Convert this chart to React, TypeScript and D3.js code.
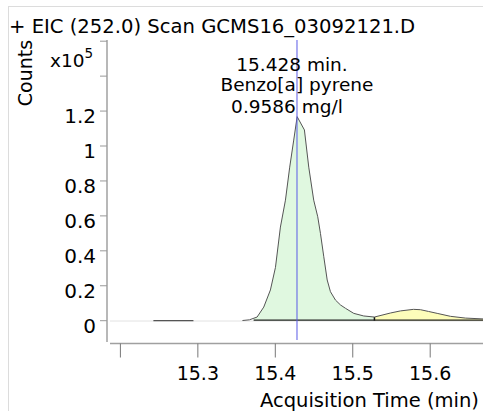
import React from 'react';
import * as d3 from 'd3';

// ---- data ----
const titleText = '+ EIC (252.0) Scan GCMS16_03092121.D';
const yTicks = [0, 0.2, 0.4, 0.6, 0.8, 1, 1.2, 1.4, 1.6];
const yTickLabels = ['0', '0.2', '0.4', '0.6', '0.8', '1', '1.2', '', ''];
const xTicks = [15.2, 15.3, 15.4, 15.5, 15.6];
const xTickLabels = ['', '15.3', '15.4', '15.5', '15.6'];

const noiseTimes = [15.2426, 15.2943];
const noiseCounts = [0, 0];

const traceTimes = [
  15.3576, 15.3666, 15.3765, 15.3851, 15.3937, 15.4002, 15.4066, 15.4131, 15.4186, 15.4238,
  15.4282, 15.4376, 15.4432, 15.4496, 15.4548, 15.4583, 15.4626, 15.467, 15.4712, 15.4777,
  15.4842, 15.4906, 15.5013, 15.5142, 15.528, 15.5487, 15.5616, 15.5784, 15.5874, 15.5978,
  15.609, 15.6262, 15.6456, 15.6688, 15.7,
];
const traceCounts = [
  0.001, 0.005, 0.021, 0.078, 0.176, 0.305, 0.536, 0.69, 0.879, 1.034,
  1.168, 1.092, 0.879, 0.69, 0.595, 0.5, 0.366, 0.233, 0.166, 0.118,
  0.09, 0.071, 0.042, 0.027, 0.021, 0.044, 0.056, 0.065, 0.063, 0.053,
  0.042, 0.025, 0.015, 0.01, 0.008,
];

const peakStart = [15.372, 15.528];
const peakEnd = [15.528, 15.7];
const peakFill = ['#e0f8e0', '#fdfdba'];

const retentionTime = 15.428;
const annotationLines = ['15.428 min.', 'Benzo[a] pyrene', '0.9586 mg/l'];

// ---- layout ----
const W = 483;
const H = 411;
const FONT = "'DejaVu Sans', Verdana, sans-serif";
const annotDx = [-5, 0, -10];
const annotY = [71, 91, 113];

const x = d3.scaleLinear().domain([15.2, 15.6]).range([120.4, 430.2]);
const y = d3.scaleLinear().domain([0, 1.6]).range([320.7, 41.2]);

function interp(t: number): number {
  const i = d3.bisectLeft(traceTimes, t);
  if (i <= 0) return traceCounts[0];
  if (i >= traceTimes.length) return traceCounts[traceCounts.length - 1];
  const t0 = traceTimes[i - 1], t1 = traceTimes[i];
  const f = (t - t0) / (t1 - t0);
  return traceCounts[i - 1] + f * (traceCounts[i] - traceCounts[i - 1]);
}

export default function App() {
  const trace = traceTimes.map((t, i) => [t, traceCounts[i]] as [number, number]);
  const noise = noiseTimes.map((t, i) => [t, noiseCounts[i]] as [number, number]);
  const line = d3
    .line<[number, number]>()
    .x((d) => x(d[0]))
    .y((d) => y(d[1]));
  const area = d3
    .area<[number, number]>()
    .x((d) => x(d[0]))
    .y0(y(0))
    .y1((d) => y(d[1]));

  const peaks = peakStart.map((s, k) => {
    const e = peakEnd[k];
    const pts: [number, number][] = [[s, interp(s)]];
    trace.forEach((p) => {
      if (p[0] > s && p[0] < e) pts.push(p);
    });
    pts.push([e, interp(e)]);
    return pts;
  });

  const xAxisY = 343.5;
  const yAxisX = 107;

  return (
    <svg
      width={W}
      height={H}
      style={{ position: 'absolute', left: 0, top: 0, background: '#fff' }}
      fontFamily={FONT}
    >
      {/* frame */}
      <rect x={8.5} y={6.5} width={W + 20} height={H + 20} fill="none" stroke="#dcdcdc" strokeWidth={1} />

      {/* title */}
      <text x={9} y={33} fontSize={19.6} fill="#000">
        {titleText}
      </text>

      {/* y label */}
      <text transform="translate(32,73) rotate(-90)" textAnchor="middle" fontSize={19} fill="#000">
        Counts
      </text>
      <text x={50} y={67} fontSize={18.5} fill="#000">
        x10
        <tspan dy={-9} fontSize={13.5}>
          5
        </tspan>
      </text>

      {/* zero line */}
      <line x1={110} x2={W} y1={y(0) + 0.3} y2={y(0) + 0.3} stroke="#e2e2e2" strokeWidth={1} />

      {/* peak fills */}
      {peaks.map((pts, k) => (
        <path key={'f' + k} d={area(pts) || ''} fill={peakFill[k]} stroke="none" />
      ))}
      {/* integration baselines */}
      {peaks.map((pts, k) => (
        <line
          key={'b' + k}
          x1={x(pts[0][0])}
          x2={x(pts[pts.length - 1][0])}
          y1={y(0) - 0.5}
          y2={y(0) - 0.5}
          stroke="#222"
          strokeWidth={1.2}
        />
      ))}
      {/* boundary marker */}
      <line
        x1={x(peakStart[1])}
        x2={x(peakStart[1])}
        y1={y(0)}
        y2={y(interp(peakStart[1]))}
        stroke="#111"
        strokeWidth={1.5}
      />

      {/* trace */}
      <path d={line(noise) || ''} fill="none" stroke="#555" strokeWidth={1.3} />
      <path d={line(trace) || ''} fill="none" stroke="#555" strokeWidth={1} />

      {/* retention time line */}
      <line x1={x(retentionTime)} x2={x(retentionTime)} y1={40} y2={340} stroke="#5a5ae6" strokeWidth={1} />

      {/* annotation */}
      {annotationLines.map((s, i) => (
        <text
          key={'a' + i}
          x={x(retentionTime) + annotDx[i]}
          y={annotY[i]}
          textAnchor="middle"
          fontSize={18.5}
          fill="#000"
        >
          {s}
        </text>
      ))}

      {/* y axis */}
      <line x1={yAxisX} x2={yAxisX} y1={40} y2={342} stroke="#a0a0a0" strokeWidth={1.5} />
      {yTicks.map((v, i) => (
        <g key={'yt' + i}>
          <line x1={yAxisX - 7} x2={yAxisX} y1={y(v)} y2={y(v)} stroke="#999" strokeWidth={1} />
          {yTickLabels[i] && (
            <text x={96} y={y(v) + 12} textAnchor="end" fontSize={20} fill="#000">
              {yTickLabels[i]}
            </text>
          )}
        </g>
      ))}

      {/* x axis */}
      <line x1={110} x2={W} y1={xAxisY} y2={xAxisY} stroke="#a0a0a0" strokeWidth={1.5} />
      {xTicks.map((t, i) => (
        <g key={'xt' + i}>
          <line x1={x(t)} x2={x(t)} y1={xAxisY} y2={xAxisY + 14} stroke="#777" strokeWidth={1} />
          {xTickLabels[i] && (
            <text x={x(t)} y={380} textAnchor="middle" fontSize={19} fill="#000">
              {xTickLabels[i]}
            </text>
          )}
        </g>
      ))}
      <text x={260} y={406.5} fontSize={19.5} fill="#000">
        Acquisition Time (min)
      </text>
    </svg>
  );
}
